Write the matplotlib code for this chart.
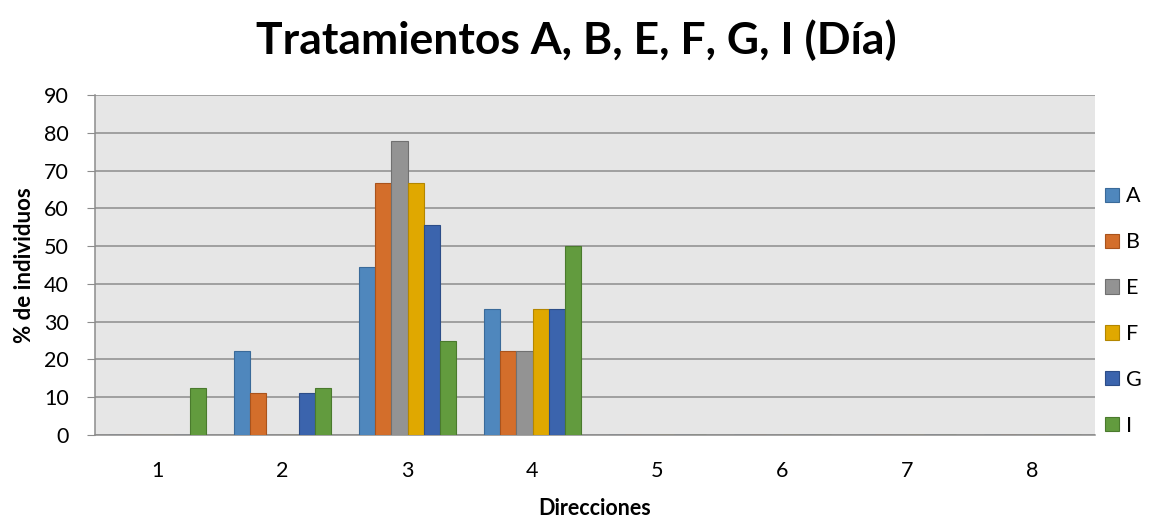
import numpy as np
import matplotlib.pyplot as plt
from matplotlib.patches import Patch

# ─── DATA ───────────────────────────────────────────────────────────────────
directions = ["1", "2", "3", "4", "5", "6", "7", "8"]
treatments = ["A", "B", "E", "F", "G", "I"]

vals_a = [0, 22.2, 44.4, 33.3, 0, 0, 0, 0]
vals_b = [0, 11.1, 66.7, 22.2, 0, 0, 0, 0]
vals_e = [0, 0, 77.8, 22.2, 0, 0, 0, 0]
vals_f = [0, 0, 66.7, 33.3, 0, 0, 0, 0]
vals_g = [0, 11.1, 55.6, 33.3, 0, 0, 0, 0]
vals_i = [12.5, 12.5, 25.0, 50.0, 0, 0, 0, 0]

series = [vals_a, vals_b, vals_e, vals_f, vals_g, vals_i]
fills = ["#4f87bd", "#d36e2b", "#939393", "#e0a800", "#3b64ad", "#629b3e"]
edges = ["#3a6a99", "#a9531c", "#707070", "#b38600", "#2c4d88", "#4a7a2d"]

plt.rcParams["font.family"] = ["Lato", "DejaVu Sans"]

fig = plt.figure(figsize=(11.53, 5.21), dpi=100)
ax = fig.add_axes([95 / 1153, 86 / 521, 1000 / 1153, 340 / 521])

x = np.arange(len(directions))
width = 0.13
for k, (vals, fc, ec) in enumerate(zip(series, fills, edges)):
    offset = (k - 2.5) * width
    ax.bar(x + offset, vals, width, color=fc, edgecolor=ec, linewidth=0.8,
           zorder=3)

ax.set_facecolor("#e6e6e6")
ax.set_xlim(-0.5, len(directions) - 0.5)
ax.set_ylim(0, 90)
ax.set_yticks(np.arange(0, 91, 10))
ax.set_xticks(x)
ax.set_xticklabels(directions)
ax.grid(axis="y", color="#8c8c8c", linewidth=1.1, zorder=1)
for side in ["top", "right"]:
    ax.spines[side].set_visible(False)
for side in ["left", "bottom"]:
    ax.spines[side].set_color("#8c8c8c")
    ax.spines[side].set_linewidth(1.1)
ax.tick_params(axis="y", length=6, color="#8c8c8c", labelsize=15.5, pad=13)
ax.tick_params(axis="x", length=0, labelsize=15.5, pad=19)

ax.set_ylabel("% de individuos", fontsize=16, fontweight="bold", labelpad=6)
ax.set_xlabel("Direcciones", fontsize=15.5, fontweight="bold", labelpad=12)
fig.suptitle("Tratamientos A, B, E, F, G, I (Día)", fontsize=32,
             fontweight="bold", y=0.962, x=0.5)

handles = [Patch(facecolor=fc, edgecolor=ec, linewidth=0.8)
           for fc, ec in zip(fills, edges)]
fig.legend(handles, treatments, loc="center left",
           bbox_to_anchor=(1086 / 1153, 210 / 521), frameon=False,
           fontsize=15.5, handlelength=0.65, handleheight=0.65,
           handletextpad=0.3, labelspacing=1.2)

fig.savefig("out.png", dpi=100)
